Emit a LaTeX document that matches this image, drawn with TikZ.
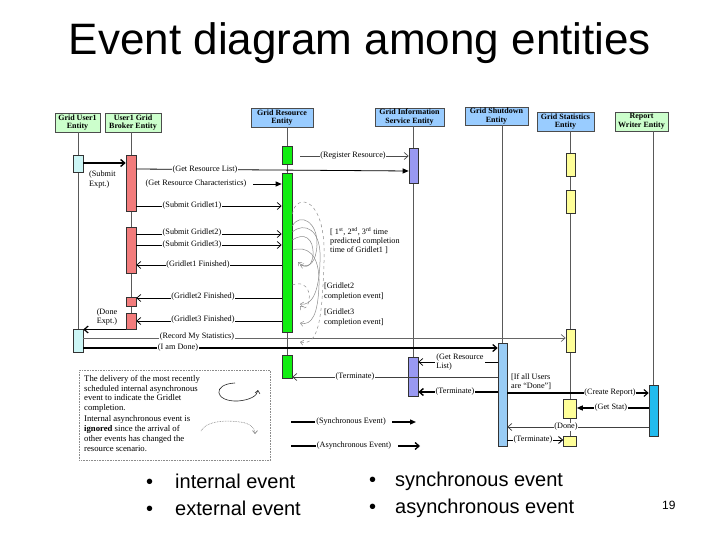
\documentclass[tikz,border=0pt]{standalone}
\usepackage{fontspec}
\setmainfont{Liberation Serif}
\newfontfamily\arial{Liberation Sans}
\usetikzlibrary{arrows.meta}
\definecolor{hgreen}{HTML}{CCFFCC}
\definecolor{hblue}{HTML}{99CCFF}
\definecolor{cyanL}{HTML}{CCF6F6}
\definecolor{salmon}{HTML}{F27C7C}
\definecolor{bgreen}{HTML}{11EE11}
\definecolor{purp}{HTML}{9999F2}
\definecolor{sblue}{HTML}{99CCF5}
\definecolor{yel}{HTML}{FFFF99}
\definecolor{rcyan}{HTML}{22BBEE}
\newcommand{\dfont}{\fontsize{8.2}{9.3}\selectfont}
\tikzset{
  hdr/.style={draw=black!70, line width=0.7pt, align=center, inner sep=0.3pt, font=\fontsize{8}{8.6}\selectfont\bfseries},
  bar/.style={draw=black!80, line width=0.6pt, anchor=north, minimum width=10pt, inner sep=0pt},
  life/.style={draw=black!65, line width=0.8pt},
  msg/.style={line width=0.7pt, -{Straight Barb[length=4pt,width=7pt]}},
  smsg/.style={line width=0.8pt, -{Triangle[length=6pt,width=5pt]}},
  lbl/.style={font=\dfont, fill=white, inner sep=0.6pt},
  txt/.style={font=\dfont, align=left, inner sep=0pt},
  loop/.style={draw=black!45, line width=0.5pt, -{Straight Barb[length=3pt,width=5pt]}},
}
\begin{document}
\begin{tikzpicture}[x=1pt,y=-1pt]
\useasboundingbox (0,0) rectangle (720,540);
\fill[white] (0,0) rectangle (720,540);

% title
\node[anchor=base, inner sep=0pt, font=\arial\fontsize{44}{44}\selectfont] (title) at (360,55) {Event diagram among entities};

% headers
\node[hdr, fill=hgreen, minimum width=45, minimum height=19] (h1) at (77.5,122.5) {Grid User1\\Entity};
\node[hdr, fill=hgreen, minimum width=56, minimum height=19] (h2) at (133,122.5) {User1 Grid\\Broker Entity};
\node[hdr, fill=hblue, minimum width=62, minimum height=19] (h3) at (282,117.5) {Grid Resource\\Entity};
\node[hdr, fill=hblue, minimum width=69, minimum height=18] (h4) at (409.5,117) {Grid Information\\Service Entity};
\node[hdr, fill=hblue, minimum width=63, minimum height=18] (h5) at (496.5,116) {Grid Shutdown\\Entity};
\node[hdr, fill=hblue, minimum width=57, minimum height=19] (h6) at (565.5,121.5) {Grid Statistics\\Entity};
\node[hdr, fill=hgreen, minimum width=53, minimum height=19] (h7) at (641.5,121.5) {Report\\Writer Entity};

% coordinates of lifelines
\coordinate (l1) at (78,0);
\coordinate (l2) at (131,0);
\coordinate (l3) at (287,0);
\coordinate (l4) at (413,0);
\coordinate (l5) at (502.5,0);
\coordinate (l6) at (570.5,0);
\coordinate (l7) at (653.5,0);

% lifelines
\draw[life] (l1 |- h1.south) -- (78,352);
\draw[life] (l2 |- h2.south) -- (131,329);
\draw[life] (l3 |- h3.south) -- (287,378);
\draw[life] (l4 |- h4.south) -- (413,396);
\draw[life] (l5 |- h5.south) -- (502.5,446);
\draw[life] (l6 |- h6.south) -- (570.5,446);
\draw[life] (l7 |- h7.south) -- (653.5,436);

% activation bars
\node[bar, fill=cyanL, minimum height=17] (u1a) at (78,155) {};
\node[bar, fill=cyanL, minimum height=23] (u1b) at (78,329) {};
\node[bar, fill=salmon, minimum height=56] (b1) at (131,155) {};
\node[bar, fill=salmon, minimum height=46] (b2) at (131,227) {};
\node[bar, fill=salmon, minimum height=9] (b3) at (131,297) {};
\node[bar, fill=salmon, minimum height=16] (b4) at (131,313) {};
\node[bar, fill=bgreen, minimum height=18] (r1) at (287,146) {};
\node[bar, fill=bgreen, minimum height=159] (r2) at (287,173) {};
\node[bar, fill=bgreen, minimum height=23] (r3) at (287,355) {};
\node[bar, fill=purp, minimum width=9, minimum height=35] (g1) at (413.5,148) {};
\node[bar, fill=purp, minimum width=10, minimum height=39] (g2) at (413,357) {};
\node[bar, fill=sblue, minimum width=9, minimum height=103] (s1) at (502.5,343) {};
\node[bar, fill=yel, minimum width=9, minimum height=23] (st1) at (570.5,153) {};
\node[bar, fill=yel, minimum width=9, minimum height=23] (st2) at (570.5,190) {};
\node[bar, fill=yel, minimum width=9, minimum height=23] (st3) at (570.5,329) {};
\node[bar, fill=yel, minimum width=13, minimum height=19] (st4) at (570,399) {};
\node[bar, fill=yel, minimum width=13, minimum height=10] (st5) at (570,436) {};
\node[bar, fill=rcyan, minimum width=9, minimum height=51] (rw) at (653.5,385) {};

% messages
\draw[msg, line width=1.4pt] (u1a.east |- 0,163) -- (b1.west |- 0,163);
\node[txt, anchor=north west] (lse) at (89,171) {(Submit\\Expt.)};

\draw[msg, black!70] (300,156) -- (g1.west |- 0,156);
\node[lbl] (lrr) at (353,156) {(Register Resource)};

\draw[smsg] (b1.east |- 0,169) -- (g1.west |- 0,171);
\node[lbl] (lgrl) at (205,170) {(Get Resource List)};

\node[lbl] (lgrc) at (196,184) {(Get Resource Characteristics)};
\draw[smsg] (lgrc.east) ++(6,0) coordinate (grcs) -- (r2.west |- lgrc);

\draw[msg] (b1.east |- 0,206) -- (r2.west |- 0,206);
\node[lbl] (lsg1) at (192,206) {(Submit Gridlet1)};
\draw[msg] (b2.east |- 0,234) -- (r2.west |- 0,234);
\node[lbl] (lsg2) at (192,233) {(Submit Gridlet2)};
\draw[msg] (b2.east |- 0,245) -- (r2.west |- 0,245);
\node[lbl] (lsg3) at (192,245) {(Submit Gridlet3)};
\draw[msg] (r2.west |- 0,265) -- (b2.east |- 0,265);
\node[lbl] (lgf1) at (198,265) {(Gridlet1 Finished)};
\draw[msg] (r2.west |- 0,298) -- (b3.east |- 0,298);
\node[lbl] (lgf2) at (203,297) {(Gridlet2 Finished)};
\draw[msg] (r2.west |- 0,321) -- (b4.east |- 0,321);
\node[lbl] (lgf3) at (203,320) {(Gridlet3 Finished)};

\draw[msg, line width=1.2pt] (b4.west |- 0,329.5) -- (u1b.east |- 0,329.5);
\node[txt, align=center] (lde) at (107,317) {(Done\\Expt.)};

\draw[msg, black!60] (u1b.east |- 0,338) -- (st3.west |- 0,338);
\node[lbl] (lrs) at (197,337) {(Record My Statistics)};
\draw[msg, line width=1.3pt] (u1b.east |- 0,348) -- (s1.west |- 0,348);
\node[lbl] (lad) at (178,348) {(I am Done)};

\draw[msg] (s1.west |- 0,362) -- (g2.east |- 0,362);
\node[txt, fill=white, inner sep=1pt] (lgrl2) at (460,362) {(Get Resource\\List)};
\draw[msg, black!75] (s1.west |- 0,377) -- (r3.east |- 0,377);
\node[lbl] (lt1) at (355,377) {(Terminate)};
\draw[msg, line width=1.4pt] (s1.west |- 0,392) -- (g2.east |- 0,392);
\node[lbl] (lt2) at (455,392) {(Terminate)};

\node[txt, anchor=west] (lif) at (511,382) {[If all Users\\are ``Done'']};
\draw[msg, line width=1.1pt] (s1.east |- 0,393) -- (rw.west |- 0,393);
\node[lbl] (lcr) at (610,393) {(Create Report)};
\draw[smsg, line width=1.3pt] (rw.west |- 0,408) -- (st4.east |- 0,408);
\node[lbl] (lgs) at (611,408) {(Get Stat)};
\draw[msg, black!75] (rw.west |- 0,427) -- (s1.east |- 0,427);
\node[lbl] (ldn) at (566,427) {(Done)};
\draw[msg, line width=0.9pt] (s1.east |- 0,440) -- (st5.west |- 0,440);
\node[lbl] (lt3) at (533,440) {(Terminate)};

% internal event loops
\draw[loop, dashed] (r2.east |- 0,214) .. controls (296,192) and (327,196) .. (324,262) .. controls (322,322) and (318,346) .. (300,342);
\draw[loop] (r2.east |- 0,226) .. controls (300,212) and (318,222) .. (317,245) .. controls (316,262) and (310,268) .. (300,265);
\draw[loop] (r2.east |- 0,232) .. controls (304,222) and (322,228) .. (320,262) .. controls (319,292) and (312,306) .. (300,304);
\draw[loop] (r2.east |- 0,240) .. controls (304,232) and (314,238) .. (313,255) .. controls (312,266) and (306,270) .. (298,262);
\draw[loop] (r2.east |- 0,250) .. controls (306,246) and (320,252) .. (319,285) .. controls (318,314) and (312,326) .. (300,323);
\draw[loop, dashed] (r2.east |- 0,285) .. controls (304,280) and (311,290) .. (309,300) .. controls (308,308) and (304,310) .. (300,306);

\node[txt, anchor=north west] (lpc) at (330,227) {[ 1\textsuperscript{st}, 2\textsuperscript{nd}, 3\textsuperscript{rd} time\\predicted completion\\time of Gridlet1 ]};
\node[txt, anchor=north west] (lc2) at (324,283) {[Gridlet2\\completion event]};
\node[txt, anchor=north west] (lc3) at (324,309) {[Gridlet3\\completion event]};

% legend box
\node[draw=black!45, densely dotted, line width=0.6pt, minimum width=191, minimum height=90, anchor=north west, inner sep=0pt] (legbox) at (79,370) {};
\node[txt, anchor=north west, font=\fontsize{8.7}{9.8}\selectfont] (leg1) at (84,375) {The delivery of the most recently\\scheduled internal asynchronous\\event to indicate the Gridlet\\completion.};
\node[txt, anchor=north west, font=\fontsize{8.7}{10.2}\selectfont] (leg2) at (84,415) {Internal asynchronous event is\\\textbf{ignored} since the arrival of\\other events has changed the\\resource scenario.};
\draw[black!85, line width=0.6pt, -{Straight Barb[length=3pt,width=5pt]}] (235,383) .. controls (212,384) and (214,402) .. (238,401) .. controls (250,400) and (257,396) .. (258,390);
\draw[black!55, densely dotted, line width=0.6pt, -{Straight Barb[length=3pt,width=5pt]}] (201,431) .. controls (206,421) and (225,420) .. (240,422) .. controls (250,423) and (255,428) .. (255,434);

% legend arrows
\node[lbl] (lsync) at (351,422) {(Synchronous Event)};
\coordinate (sy0) at (291,422);
\coordinate (sy1) at (392,422);
\coordinate (sy2) at (416,422);
\draw[line width=1.3pt] (sy0) -- (lsync.west);
\draw[smsg, line width=1.3pt] (sy1) -- (sy2);
\node[lbl] (lasync) at (354,446) {(Asynchronous Event)};
\coordinate (as0) at (291,446);
\coordinate (as1) at (398,446);
\coordinate (as2) at (420,446);
\draw[line width=1.3pt] (as0) -- (lasync.west);
\draw[msg, line width=1.3pt] (as1) -- (as2);

% bullets
\begin{scope}[every node/.style={anchor=base west, inner sep=0pt, font=\arial\fontsize{20}{20}\selectfont}]
\node (b1d) at (146,488) {•};
\node (t1) at (175,488) {internal event};
\node (b2d) at (146,515) {•};
\node (t2) at (175,515) {external event};
\node (b3d) at (369,486) {•};
\node (t3) at (395,486) {synchronous event};
\node (b4d) at (369,513) {•};
\node (t4) at (395,513) {asynchronous event};
\end{scope}
\node[anchor=base west, inner sep=0pt, font=\arial\fontsize{12}{12}\selectfont] (pg) at (662,509) {19};
\end{tikzpicture}
\end{document}
